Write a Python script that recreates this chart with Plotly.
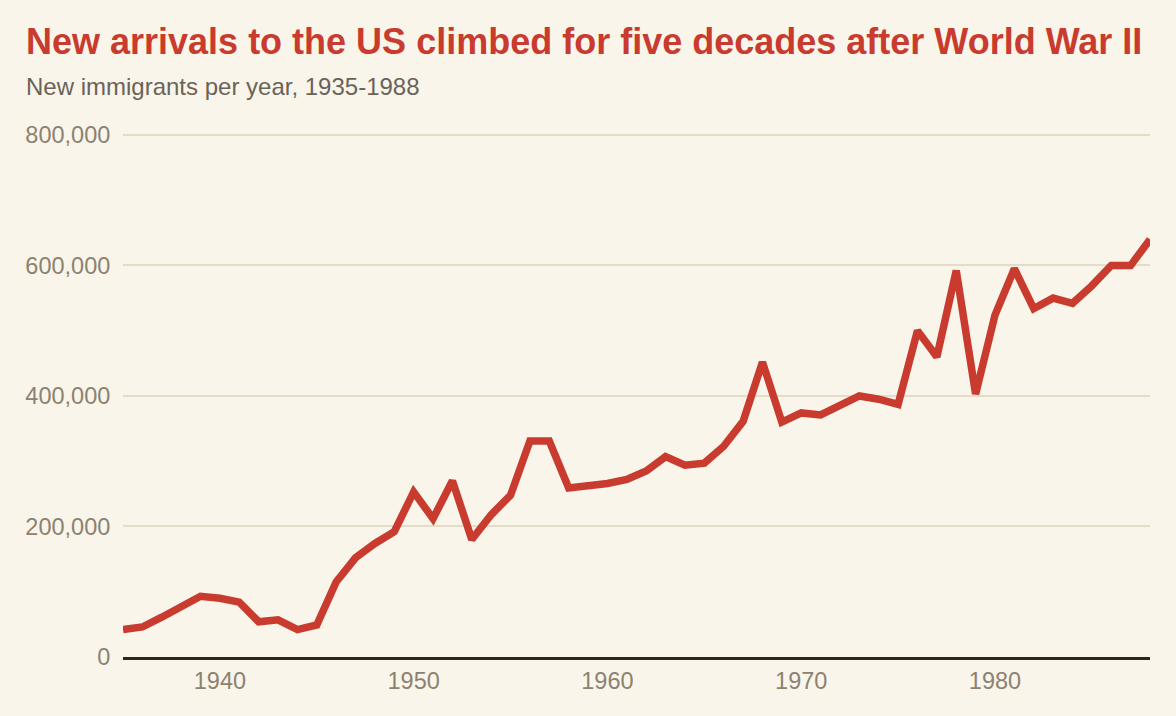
import plotly.graph_objects as go

# Data
years = list(range(1935, 1989))
immigrants = [
    42000, 46000, 61000, 78000, 93000, 90000, 84000, 54000, 57000, 42000,
    49000, 115000, 152000, 174000, 192000, 253000, 212000, 270000, 180000, 218000,
    248000, 331000, 331000, 259000, 262000, 266000, 272000, 285000, 307000, 294000,
    297000, 323000, 361000, 452000, 360000, 374000, 371000, 386000, 400000, 395000,
    387000, 500000, 460000, 592000, 403000, 524000, 595000, 534000, 550000, 542000,
    569000, 600000, 600000, 640000,
]
y_ticks = [0, 200000, 400000, 600000, 800000]
y_tick_labels = ["0", "200,000", "400,000", "600,000", "800,000"]
x_ticks = [1940, 1950, 1960, 1970, 1980]

title_text = "New arrivals to the US climbed for five decades after World War II"
subtitle_text = "New immigrants per year, 1935-1988"

RED = "#c83b2e"
BG = "#f9f5ea"
FONT = "Liberation Sans, Arial, Helvetica, sans-serif"

fig = go.Figure(
    go.Scatter(
        x=years,
        y=immigrants,
        mode="lines",
        line=dict(color=RED, width=7.5),
        hoverinfo="x+y",
    )
)

fig.update_layout(
    width=1176,
    height=716,
    paper_bgcolor=BG,
    plot_bgcolor=BG,
    showlegend=False,
    margin=dict(l=123, r=26, t=133, b=59),
    font=dict(family=FONT, color="#8c8271", size=23),
    annotations=[
        dict(
            text="<b>" + title_text + "</b>",
            xref="paper", yref="paper",
            x=-0.0964, y=1.1737,
            xanchor="left", yanchor="middle",
            showarrow=False,
            font=dict(family=FONT, size=36, color=RED),
        ),
        dict(
            text=subtitle_text,
            xref="paper", yref="paper",
            x=-0.0964, y=1.0887,
            xanchor="left", yanchor="middle",
            showarrow=False,
            font=dict(family=FONT, size=24, color="#6b6358"),
        ),
    ],
)

fig.update_xaxes(
    range=[1935, 1988],
    tickvals=x_ticks,
    showgrid=False,
    zeroline=False,
    showline=True,
    linecolor="#2a2622",
    linewidth=2.5,
    ticks="outside",
    ticklen=0,
    ticklabelstandoff=1,
    tickfont=dict(size=23.5, color="#8c8271"),
)

# a little headroom so the 800,000 gridline is drawn below the top edge
fig.update_yaxes(
    range=[0, 803000],
    tickvals=y_ticks,
    ticktext=y_tick_labels,
    showgrid=True,
    gridcolor="#e4dcc6",
    gridwidth=2,
    zeroline=False,
    showline=False,
    ticks="outside",
    ticklen=0,
    ticklabelstandoff=7,
    tickfont=dict(size=23.5, color="#8c8271"),
)

fig.write_html(
    "out.html",
    config={"displayModeBar": False},
    post_script="document.body.style.margin='0';document.body.style.background='%s';" % BG,
)
